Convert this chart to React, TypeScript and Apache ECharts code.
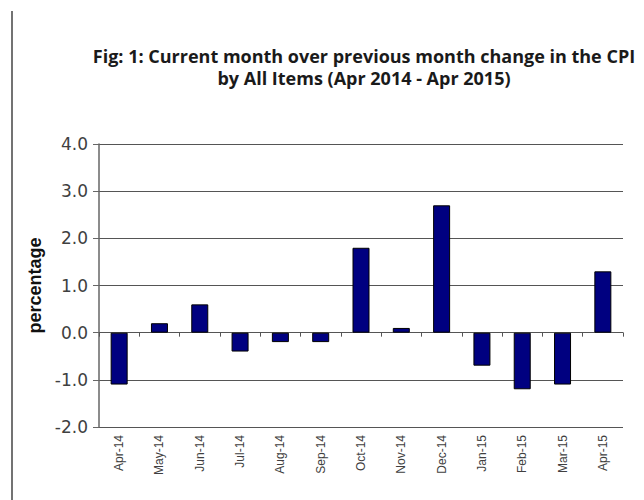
import React, { useEffect, useRef } from "react";
import * as echarts from "echarts";

const categories = [
  "Apr-14", "May-14", "Jun-14", "Jul-14", "Aug-14", "Sep-14", "Oct-14",
  "Nov-14", "Dec-14", "Jan-15", "Feb-15", "Mar-15", "Apr-15",
];
const changes = [-1.1, 0.2, 0.6, -0.4, -0.2, -0.2, 1.8, 0.1, 2.7, -0.7, -1.2, -1.1, 1.3];
const titleLines = [
  "Fig: 1: Current month over previous month change in the CPI",
  "by All Items (Apr 2014 - Apr 2015)",
];
const yAxisName = "percentage";

export default function App() {
  const ref = useRef<HTMLDivElement>(null);
  useEffect(() => {
    document.body.style.margin = "0";
    const chart = echarts.init(ref.current!, null, { renderer: "svg" });
    chart.setOption({
      animation: false,
      backgroundColor: "#ffffff",
      title: {
        text: titleLines.join("\n"),
        left: 359,
        top: 40,
        textAlign: "center",
        textStyle: {
          fontFamily: "Open Sans",
          fontWeight: "bold",
          fontSize: 18,
          lineHeight: 22,
          color: "#1a1a1a",
        },
      },
      graphic: [
        {
          type: "line",
          shape: { x1: 12, y1: 11, x2: 12, y2: 500 },
          style: { stroke: "#444444", lineWidth: 1.5 },
        },
      ],
      grid: {
        left: 99,
        right: 21,
        top: 144,
        bottom: 73,
        containLabel: false,
        outerBoundsMode: "none",
      },
      xAxis: {
        type: "category",
        data: categories,
        axisLine: { onZero: true, lineStyle: { color: "#555555", width: 1 } },
        axisTick: { show: true, length: 4, lineStyle: { color: "#555555" } },
        axisLabel: {
          rotate: 90,
          margin: 8,
          fontFamily: "Liberation Sans, Arial",
          fontSize: 12,
          color: "#404040",
        },
        splitLine: { show: false },
      },
      yAxis: {
        type: "value",
        min: -2,
        max: 4,
        interval: 1,
        name: yAxisName,
        nameLocation: "middle",
        nameGap: 52,
        nameRotate: 90,
        nameTextStyle: {
          fontFamily: "Liberation Sans, Arial",
          fontWeight: "bold",
          fontSize: 18,
          color: "#111111",
        },
        axisLine: { show: true, lineStyle: { color: "#666666", width: 1.5 } },
        axisTick: { show: true, length: 6, lineStyle: { color: "#666666" } },
        axisLabel: {
          margin: 11,
          fontFamily: "DejaVu Sans",
          fontSize: 17,
          color: "#404040",
          formatter: (v: number) => v.toFixed(1),
        },
        splitLine: { show: true, lineStyle: { color: "#555555", width: 1 } },
      },
      series: [
        {
          type: "bar",
          data: changes,
          barWidth: 17,
          itemStyle: { color: "#000080", borderColor: "#000000", borderWidth: 1 },
        },
      ],
    });
    return () => chart.dispose();
  }, []);
  return (
    <div
      ref={ref}
      style={{ position: "fixed", left: 0, top: 0, width: 644, height: 500 }}
    />
  );
}
